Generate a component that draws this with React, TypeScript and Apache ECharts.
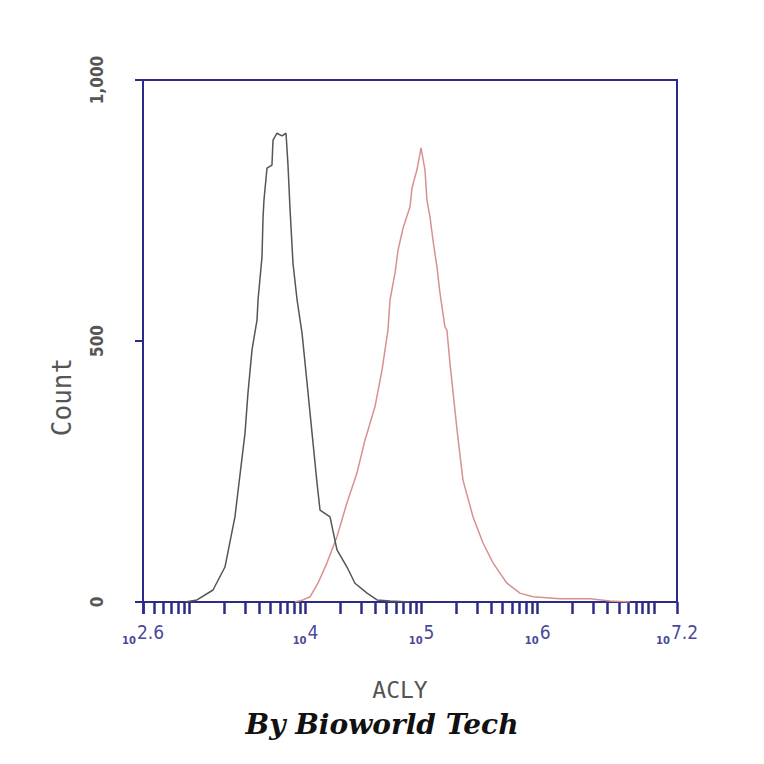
import React, { useEffect, useRef } from "react";
import * as echarts from "echarts";

// x values are log10(fluorescence intensity), y values are counts
const controlLog = [2.962, 3.065, 3.203, 3.306, 3.392, 3.427, 3.479, 3.504, 3.539, 3.582, 3.591, 3.625, 3.634, 3.642, 3.668, 3.711, 3.72, 3.754, 3.797, 3.832, 3.849, 3.866, 3.892, 3.927, 3.97, 4.013, 4.056, 4.099, 4.125, 4.211, 4.271, 4.357, 4.426, 4.53, 4.616, 4.728, 4.9];
const controlCount = [0, 4, 23, 67, 163, 228, 324, 400, 483, 540, 579, 661, 736, 770, 831, 837, 885, 898, 893, 898, 837, 755, 649, 579, 515, 420, 324, 228, 176, 163, 100, 67, 36, 17, 4, 2, 0];

const aclyLog = [3.909, 3.978, 4.039, 4.107, 4.185, 4.271, 4.357, 4.443, 4.512, 4.598, 4.659, 4.71, 4.728, 4.771, 4.797, 4.84, 4.9, 4.917, 4.96, 4.995, 5.029, 5.046, 5.072, 5.098, 5.132, 5.158, 5.201, 5.218, 5.244, 5.305, 5.356, 5.443, 5.529, 5.615, 5.735, 5.847, 5.959, 6.192, 6.45, 6.623, 6.795];
const aclyCount = [0, 4, 10, 36, 75, 125, 190, 247, 310, 374, 444, 521, 579, 630, 674, 716, 757, 793, 828, 870, 828, 770, 738, 693, 642, 592, 527, 521, 458, 330, 234, 163, 113, 75, 36, 17, 10, 6, 6, 2, 0];

const xLabelValues = [2.6, 4, 5, 6, 7.2];
const yTickValues = [0, 500, 1000];

const NAVY = "#2c2c86";

export default function App() {
  const ref = useRef<HTMLDivElement>(null);
  useEffect(() => {
    if (!ref.current) return;
    const chart = echarts.init(ref.current, null, { renderer: "svg" });
    const minorTicks: number[] = [];
    for (let d = 2; d <= 7; d++) {
      for (let k = 1; k <= 9; k++) {
        const v = Math.log10(k * Math.pow(10, d));
        if (v >= 2.6 - 1e-6 && v <= 7.2 + 1e-6) minorTicks.push(v);
      }
    }
    minorTicks.push(2.6, 7.2);
    chart.setOption({
      animation: false,
      backgroundColor: "#ffffff",
      grid: {
        left: 143, right: 87, top: 80, bottom: 162,
        show: true, borderColor: NAVY, borderWidth: 2, backgroundColor: "transparent",
      },
      xAxis: {
        type: "value", min: 2.6, max: 7.2,
        splitLine: { show: false },
        axisLine: { show: true, onZero: false, lineStyle: { color: NAVY, width: 2 } },
        axisTick: { show: true, customValues: minorTicks, length: 12, lineStyle: { color: NAVY, width: 2.5 } },
        axisLabel: {
          customValues: xLabelValues,
          margin: 20,
          formatter: (v: number) => `{b|10}{e|${Number.isInteger(v) ? v : v.toFixed(1)}}`,
          rich: {
            b: { fontSize: 10, fontWeight: "bold", color: "#4a4a9a", fontFamily: "DejaVu Sans", padding: [12, 1, 0, 0] },
            e: { fontSize: 19, color: "#4a4a9a", fontFamily: "DejaVu Sans Condensed", padding: [0, 0, 6, 0] },
          },
        },
        name: "ACLY", nameLocation: "middle", nameGap: 76,
        nameTextStyle: { fontSize: 23, color: "#555555", fontFamily: "DejaVu Sans Mono", padding: [0, 20, 0, 0] },
      },
      yAxis: {
        type: "value", min: 0, max: 1000, interval: 500,
        splitLine: { show: false },
        axisLine: { show: true, lineStyle: { color: NAVY, width: 2 } },
        axisTick: { show: true, length: 8, lineStyle: { color: NAVY, width: 2 } },
        axisLabel: {
          customValues: yTickValues,
          rotate: 90, margin: 38, fontSize: 17, color: "#555555", fontWeight: "bold",
          fontFamily: "DejaVu Sans Condensed",
          formatter: (v: number) => (v === 1000 ? "1,000" : String(v)),
        },
        name: "Count", nameLocation: "middle", nameGap: 68,
        nameTextStyle: { fontSize: 26, color: "#555555", fontFamily: "DejaVu Sans Mono", padding: [0, 112, 0, 0] },
      },
      series: [
        {
          type: "line", name: "ACLY", showSymbol: false, symbol: "none",
          data: aclyLog.map((x, i) => [x, aclyCount[i]]),
          lineStyle: { color: "#d99090", width: 1.5 },
        },
        {
          type: "line", name: "Control", showSymbol: false, symbol: "none",
          data: controlLog.map((x, i) => [x, controlCount[i]]),
          lineStyle: { color: "#555555", width: 1.5 },
        },
      ],
      graphic: [
        {
          type: "text", left: "center", top: 710,
          style: {
            text: "By Bioworld Tech", fontSize: 28, fontStyle: "italic", fontWeight: "bold",
            fontFamily: "DejaVu Serif", fill: "#111111",
          },
        },
      ],
    });
    return () => chart.dispose();
  }, []);
  return <div ref={ref} style={{ position: "fixed", left: 0, top: 0, width: 764, height: 764 }} />;
}
